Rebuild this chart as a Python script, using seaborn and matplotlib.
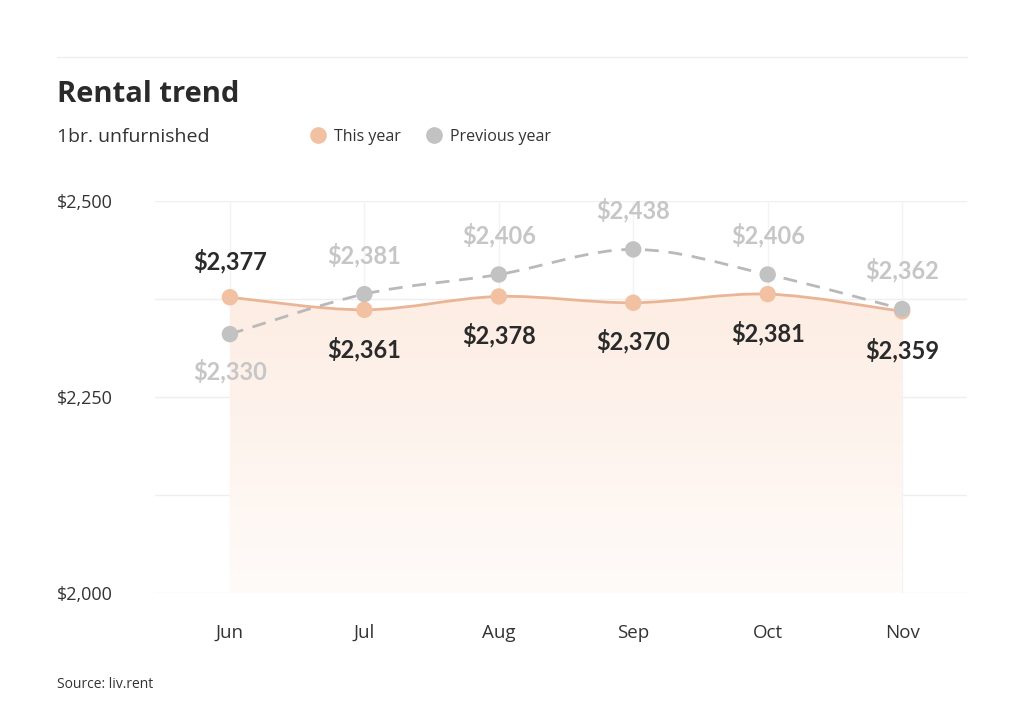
import numpy as np
import pandas as pd
import matplotlib
matplotlib.use("Agg")
import matplotlib.pyplot as plt
import seaborn as sns
from matplotlib.path import Path
from matplotlib.patches import PathPatch
from matplotlib.lines import Line2D
from matplotlib.colors import LinearSegmentedColormap

# ------------------------------
# Data
# ------------------------------
months = ["Jun", "Jul", "Aug", "Sep", "Oct", "Nov"]
this_year = [2377, 2361, 2378, 2370, 2381, 2359]
previous_year = [2330, 2381, 2406, 2438, 2406, 2362]
y_ticks = [2000, 2250, 2500]
y_grid = [2000, 2125, 2250, 2375, 2500]

df = pd.DataFrame({
    "month": months * 2,
    "rent": this_year + previous_year,
    "series": ["This year"] * 6 + ["Previous year"] * 6,
})
df["x"] = df.groupby("series").cumcount()

# ------------------------------
# Style
# ------------------------------
sns.set_theme(style="white")
plt.rcParams["font.family"] = ["Open Sans", "DejaVu Sans"]

peach = "#f2c1a2"
peach_line = "#eab596"
grey = "#c2c2c2"
grey_line = "#b9b9b9"
dark = "#2a2a2a"
grey_txt = "#c6c6c6"


def smooth_path(xs, ys):
    # Catmull-Rom -> cubic bezier path through the points
    pts = np.column_stack([xs, ys]).astype(float)
    n = len(pts)
    verts = [pts[0]]
    codes = [Path.MOVETO]
    for i in range(n - 1):
        p0 = pts[max(i - 1, 0)]
        p1 = pts[i]
        p2 = pts[i + 1]
        p3 = pts[min(i + 2, n - 1)]
        c1 = p1 + (p2 - p0) / 6.0
        c2 = p2 - (p3 - p1) / 6.0
        verts += [c1, c2, p2]
        codes += [Path.CURVE4] * 3
    return verts, codes


fig = plt.figure(figsize=(10.24, 7.17), dpi=100)
ax = fig.add_axes([0.151, 0.173, 0.793, 0.547])

xs = np.arange(len(months))
ax.set_xlim(-0.56, 5.48)
ax.set_ylim(2000, 2500)

# grid
for g in y_grid:
    ax.axhline(g, color="#efefef", lw=1, zorder=0)
for x in xs:
    ax.axvline(x, color="#f3f3f3", lw=1, zorder=0)

# gradient fill under this year
verts, codes = smooth_path(xs, this_year)
verts = verts + [(xs[-1], 2000), (xs[0], 2000), verts[0]]
codes = codes + [Path.LINETO, Path.LINETO, Path.CLOSEPOLY]
area = PathPatch(Path(verts, codes), facecolor="none", edgecolor="none")
ax.add_patch(area)
cmap = LinearSegmentedColormap.from_list("fade", ["#fffbf9", "#fdede3"])
grad = np.linspace(0, 1, 256).reshape(-1, 1)
im = ax.imshow(grad, cmap=cmap, aspect="auto", origin="lower",
               extent=[xs[0], xs[-1], 2000, max(this_year)], zorder=1)
im.set_clip_path(area)

# smooth lines
v, c = smooth_path(xs, this_year)
ax.add_patch(PathPatch(Path(v, c), facecolor="none", edgecolor=peach_line, lw=2, zorder=2))
v, c = smooth_path(xs, previous_year)
ax.add_patch(PathPatch(Path(v, c), facecolor="none", edgecolor=grey_line, lw=2,
                       linestyle=(0, (5, 3.5)), zorder=2))

# markers
sns.scatterplot(data=df, x="x", y="rent", hue="series",
                palette={"This year": peach, "Previous year": grey},
                hue_order=["Previous year", "This year"],
                s=140, edgecolor="none", legend=False, ax=ax, zorder=3, clip_on=False)

# value labels
lab_font = dict(family=["Lato", "DejaVu Sans"], fontsize=17, fontweight="bold")
for i, v in enumerate(this_year):
    off = 26 if i == 0 else -28
    ax.annotate(f"${v:,}", (i, v), xytext=(0, off), textcoords="offset points",
                ha="center", va="center", color=dark, annotation_clip=False, **lab_font)
for i, v in enumerate(previous_year):
    off = -27 if i == 0 else 28
    ax.annotate(f"${v:,}", (i, v), xytext=(0, off), textcoords="offset points",
                ha="center", va="center", color=grey_txt, annotation_clip=False, **lab_font)

# axes
ax.set_xticks(xs)
ax.set_xticklabels(months)
ax.set_yticks(y_ticks)
ax.set_yticklabels([f"${t:,}" for t in y_ticks])
ax.tick_params(axis="x", length=0, pad=22, labelsize=13.5, labelcolor="#333333")
ax.tick_params(axis="y", length=0, pad=70.5, labelsize=13, labelcolor="#333333")
for lab in ax.get_yticklabels():
    lab.set_horizontalalignment("left")
ax.set_xlabel("")
ax.set_ylabel("")
sns.despine(ax=ax, left=True, bottom=True)

# titles / legend / source
fig.add_artist(Line2D([57 / 1024, 967 / 1024], [1 - 57 / 717, 1 - 57 / 717],
                      color="#eeeeee", lw=1))
fig.text(57 / 1024, 1 - 94 / 717, "Rental trend", fontsize=21, fontweight="bold",
         color=dark, va="center", ha="left")
fig.text(57 / 1024, 1 - 137 / 717, "1br. unfurnished", fontsize=14,
         color="#333333", va="center", ha="left")

handles = [Line2D([], [], ls="none", marker="o", markersize=11, color=peach),
           Line2D([], [], ls="none", marker="o", markersize=11, color=grey)]
fig.legend(handles, ["This year", "Previous year"], loc="center left",
           bbox_to_anchor=(294 / 1024, 1 - 137 / 717), ncol=2, frameon=False,
           fontsize=11.5, handletextpad=0.4, columnspacing=1.5, handlelength=1.2,
           labelcolor="#333333")

fig.text(57 / 1024, 1 - 685 / 717, "Source: liv.rent", fontsize=10,
         color="#333333", va="center", ha="left")

fig.savefig("out.png", dpi=100, facecolor="white")
